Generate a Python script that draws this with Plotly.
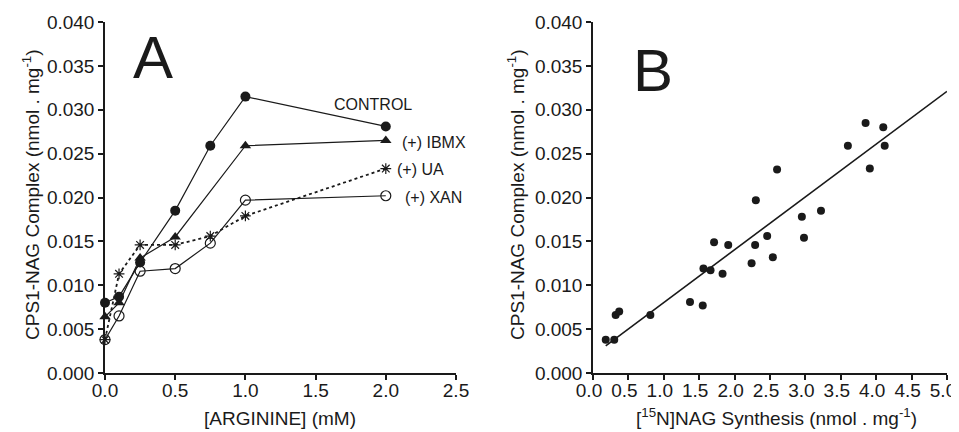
import plotly.graph_objects as go

# ---------------- Panel A data ----------------
arginine_mM = [0.0, 0.1, 0.25, 0.5, 0.75, 1.0, 2.0]
control = [0.0080, 0.0087, 0.0126, 0.0185, 0.0259, 0.0315, 0.0281]
ibmx_x = [0.0, 0.1, 0.25, 0.5, 1.0, 2.0]
ibmx = [0.0064, 0.0080, 0.0131, 0.0155, 0.0259, 0.0265]
ua = [0.0038, 0.0113, 0.0146, 0.0146, 0.0156, 0.0179, 0.0233]
xan = [0.0038, 0.0065, 0.0116, 0.0119, 0.0148, 0.0197, 0.0202]

series_labels = ["CONTROL", "(+) IBMX", "(+) UA", "(+) XAN"]
label_x = [1.62, 2.10, 2.065, 2.12]
label_y = [0.0306, 0.0263, 0.0232, 0.0200]

# ---------------- Panel B data ----------------
nag_synthesis = [0.18, 0.30, 0.32, 0.37, 0.81, 1.37, 1.55, 1.56, 1.66, 1.71,
                 1.83, 1.91, 2.24, 2.30, 2.29, 2.46, 2.54, 2.60, 2.95, 2.98,
                 3.22, 3.60, 3.85, 3.91, 4.10, 4.12]
complex_b = [0.0038, 0.0038, 0.0066, 0.0070, 0.0066, 0.0081, 0.0077, 0.0119,
             0.0117, 0.0149, 0.0113, 0.0146, 0.0125, 0.0197, 0.0146, 0.0156,
             0.0132, 0.0232, 0.0178, 0.0154, 0.0185, 0.0259, 0.0285, 0.0233,
             0.0280, 0.0259]
fit_x = [0.18, 5.0]
fit_y = [0.0031, 0.0321]

y_ticks = [0.000, 0.005, 0.010, 0.015, 0.020, 0.025, 0.030, 0.035, 0.040]
xa_ticks = [0.0, 0.5, 1.0, 1.5, 2.0, 2.5]
xb_ticks = [0.0, 0.5, 1.0, 1.5, 2.0, 2.5, 3.0, 3.5, 4.0, 4.5, 5.0]

FONT = "Liberation Sans, Arial, Helvetica, sans-serif"
BLACK = "#1a1a1a"

# The page body has an 8px default margin; size the figure to fill the window.
OFF = 8
W, H = 959 - OFF, 432 - OFF


def px(xp):
    return (xp - OFF) / W


def py(yp):
    return 1 - (yp - OFF) / H


fig = go.Figure()

# XAN (open circles)
fig.add_trace(go.Scatter(x=arginine_mM, y=xan, mode="lines+markers",
                         line=dict(color=BLACK, width=1.2),
                         marker=dict(symbol="circle-open", size=10,
                                     color=BLACK, line=dict(width=1.2)),
                         cliponaxis=False, xaxis="x", yaxis="y"))
# UA (asterisks, dotted)
fig.add_trace(go.Scatter(x=arginine_mM, y=ua, mode="lines+markers",
                         line=dict(color=BLACK, width=1.8, dash="dot"),
                         marker=dict(symbol="asterisk-open", size=9,
                                     color=BLACK, line=dict(width=1.2, color=BLACK)),
                         cliponaxis=False, xaxis="x", yaxis="y"))
# IBMX (triangles)
fig.add_trace(go.Scatter(x=ibmx_x, y=ibmx, mode="lines+markers",
                         line=dict(color=BLACK, width=1.2),
                         marker=dict(symbol="triangle-up", size=10, color=BLACK),
                         cliponaxis=False, xaxis="x", yaxis="y"))
# CONTROL (filled circles)
fig.add_trace(go.Scatter(x=arginine_mM, y=control, mode="lines+markers",
                         line=dict(color=BLACK, width=1.2),
                         marker=dict(symbol="circle", size=10, color=BLACK),
                         cliponaxis=False, xaxis="x", yaxis="y"))

# Panel B
fig.add_trace(go.Scatter(x=fit_x, y=fit_y, mode="lines",
                         line=dict(color=BLACK, width=1.6),
                         cliponaxis=False, xaxis="x2", yaxis="y2"))
fig.add_trace(go.Scatter(x=nag_synthesis, y=complex_b, mode="markers",
                         marker=dict(symbol="circle", size=8, color=BLACK),
                         cliponaxis=False, xaxis="x2", yaxis="y2"))

axis_common = dict(showline=True, linecolor=BLACK, linewidth=1.5,
                   ticks="outside", ticklen=5, tickwidth=1.5, tickcolor=BLACK,
                   showgrid=False, zeroline=False, automargin=False,
                   tickfont=dict(family=FONT, size=19, color=BLACK))

ydom = [py(373), py(22)]
fig.update_layout(
    template="none",
    width=W, height=H,
    margin=dict(l=0, r=0, t=0, b=0, pad=0),
    paper_bgcolor="white", plot_bgcolor="white",
    showlegend=False,
    font=dict(family=FONT, color=BLACK),
    xaxis=dict(domain=[px(105), px(456)], range=[0, 2.5], tickvals=xa_ticks,
               tickformat=".1f", anchor="y", **axis_common),
    yaxis=dict(domain=ydom, range=[0, 0.040], tickvals=y_ticks,
               tickformat=".3f", anchor="x", **axis_common),
    xaxis2=dict(domain=[px(593), px(947)], range=[0, 5.0], tickvals=xb_ticks,
                tickformat=".1f", anchor="y2", **axis_common),
    yaxis2=dict(domain=ydom, range=[0, 0.040], tickvals=y_ticks,
                tickformat=".3f", anchor="x2", **axis_common),
)

# keep the last tick label of panel B visible at the window edge
try:
    fig.update_layout(xaxis2=dict(ticklabelshift=-4, ticklabeloverflow="allow"))
except Exception:
    pass
# pull x tick labels a little closer to the axis, as in the original
try:
    fig.update_xaxes(ticklabelstandoff=-6)
except Exception:
    pass

annotations = []
# series labels
for t, lx, ly in zip(series_labels, label_x, label_y):
    annotations.append(dict(x=lx, y=ly, xref="x", yref="y", text=t,
                            showarrow=False, xanchor="left", yanchor="middle",
                            font=dict(family=FONT, size=16, color=BLACK)))

ytitle = "CPS1-NAG Complex (nmol . mg<sup>-1</sup>)"
annotations += [
    dict(x=px(153), y=py(57), xref="paper", yref="paper", text="A",
         showarrow=False, xanchor="center", yanchor="middle",
         font=dict(family=FONT, size=60, color=BLACK)),
    dict(x=px(653), y=py(70), xref="paper", yref="paper", text="B",
         showarrow=False, xanchor="center", yanchor="middle",
         font=dict(family=FONT, size=60, color=BLACK)),
    dict(x=px(280), y=py(418), xref="paper", yref="paper",
         text="[ARGININE] (mM)", showarrow=False, xanchor="center",
         yanchor="middle", font=dict(family=FONT, size=19, color=BLACK)),
    dict(x=px(776), y=py(417), xref="paper", yref="paper",
         text="[<sup>15</sup>N]NAG Synthesis (nmol . mg<sup>-1</sup>)",
         showarrow=False, xanchor="center", yanchor="middle",
         font=dict(family=FONT, size=19, color=BLACK)),
    dict(x=px(31), y=py(195), xref="paper", yref="paper",
         text=ytitle, textangle=-90, showarrow=False, xanchor="center",
         yanchor="middle", font=dict(family=FONT, size=19, color=BLACK)),
    dict(x=px(516), y=py(195), xref="paper", yref="paper",
         text=ytitle, textangle=-90, showarrow=False, xanchor="center",
         yanchor="middle", font=dict(family=FONT, size=19, color=BLACK)),
]
fig.update_layout(annotations=annotations)

fig.write_html("out.html")
